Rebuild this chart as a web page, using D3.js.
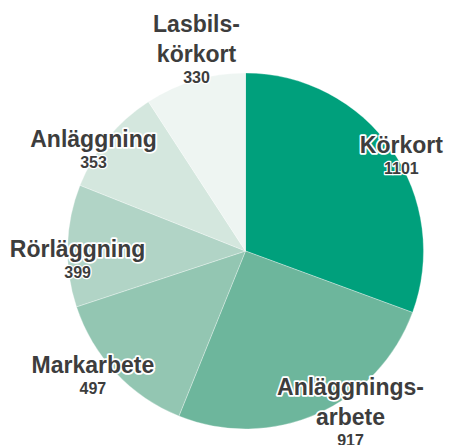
<!DOCTYPE html>
<html>
<head>
<meta charset="utf-8">
<script src="https://cdn.jsdelivr.net/npm/d3@7/dist/d3.min.js"></script>
<style>
  body { margin: 0; background: #fff; }
  svg text { font-family: "Liberation Sans", Arial, sans-serif; font-weight: bold; paint-order: stroke; stroke: #fff; stroke-linejoin: round; }
</style>
</head>
<body>
<svg id="chart" width="449" height="445"></svg>
<script>
// slice data, clockwise from 12 o'clock
const categories = ['Körkort', 'Anläggnings-\narbete', 'Markarbete', 'Rörläggning', 'Anläggning', 'Lasbils-\nkörkort'];
const values = [1101, 917, 497, 399, 353, 330];
const colors = ['#00a07c', '#6db69c', '#93c6b2', '#b1d4c6', '#d4e7de', '#eef5f2'];

// label nudges away from the outer label arc (layout only)
const labelNudge = [[0, 11], [28, -30], [-14, -8], [22, 12], [-5, 16], [5, -37]];

const width = 449, height = 445;
const cx = 245.5, cy = 251, radius = 178;

const svg = d3.select('#chart');
const g = svg.append('g').attr('transform', `translate(${cx},${cy})`);

const data = categories.map((c, i) => ({name: c, value: values[i], i: i}));

const pie = d3.pie()
    .value(d => d.value)
    .sort(null);

const arc = d3.arc()
    .innerRadius(0)
    .outerRadius(radius);

const labelArc = d3.arc()
    .innerRadius(190)
    .outerRadius(190);

const arcs = pie(data);

g.selectAll('path')
  .data(arcs)
  .enter().append('path')
    .attr('d', arc)
    .attr('fill', d => colors[d.data.i])
    .attr('stroke', '#fff')
    .attr('stroke-opacity', 0.5)
    .attr('stroke-width', 0.6);

//labels
const labels = g.selectAll('.label')
  .data(arcs)
  .enter().append('g')
    .attr('class', 'label')
    .attr('transform', d => {
      const c = labelArc.centroid(d);
      const n = labelNudge[d.data.i];
      return `translate(${c[0] + n[0]},${c[1] + n[1]})`;
    });

labels.each(function(d) {
  const sel = d3.select(this);
  const lines = d.data.name.split('\n');
  lines.forEach((l, k) => {
    sel.append('text')
      .attr('x', 0)
      .attr('y', k * 30.5)
      .attr('text-anchor', 'middle')
      .attr('font-size', 23)
      .attr('fill', '#3d3d3d')
      .attr('stroke-width', 3.5)
      .text(l);
  });
  sel.append('text')
    .attr('x', 0)
    .attr('y', (lines.length - 1) * 30.5 + 21)
    .attr('text-anchor', 'middle')
    .attr('font-size', 16)
    .attr('fill', '#3d3d3d')
    .attr('stroke-width', 2.5)
    .text(d.data.value);
});
</script>
</body>
</html>
